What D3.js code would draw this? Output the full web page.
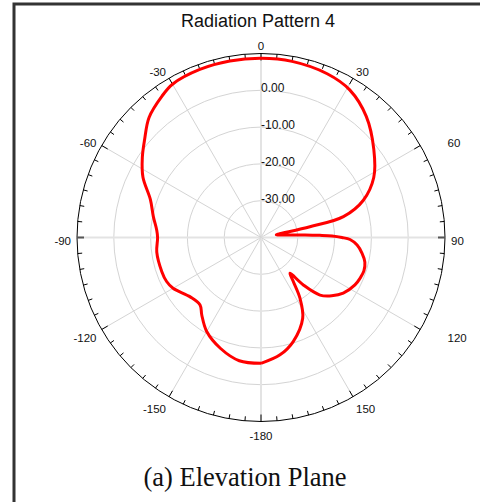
<!DOCTYPE html>
<html><head><meta charset="utf-8">
<script src="https://cdn.jsdelivr.net/npm/d3@7"></script>
<style>body{margin:0;background:#fff}svg{display:block}</style>
</head><body>
<script>
// ---- data ----
const angles = [-180,-170,-160,-150,-142.6,-137.9,-130,-120,-115,-109,-98,-90,-86,-79,-71,-63,-56,-50,-43,-35,-30,-20,-10,0,10,22,31,41,52,62,70,75.8,77.6,79,80,81.6,85.1,86.7,87.9,88.8,90,91.3,94.5,98.9,103.3,108,112.4,116.8,124.1,129.5,134.3,138.3,141,143.8,147.3,152.7,162.8,170.8,180];
const gainDb = [-5.8,-6.0,-7.9,-10.5,-13.5,-15.3,-14.9,-12.4,-11.7,-11.5,-11.4,-11.9,-11.6,-10.2,-8.2,-4.0,-1.1,1.3,4.6,6.9,8.1,8.6,8.7,8.7,8.6,8.0,6.8,3.6,-1.1,-5.3,-10.4,-16.9,-26.4,-35.2,-35.8,-35.3,-32.1,-28.0,-24.0,-20.7,-18.0,-15.8,-13.8,-12.2,-11.0,-10.6,-10.9,-11.4,-13.0,-15.1,-17.6,-22.7,-27.5,-25.1,-20.4,-15.3,-10.4,-7.7,-5.8];
const ringValues = [-30,-20,-10,0];
const ringLabels = ["-30.00","-20.00","-10.00","0.00"];
const angleLabels = [0,30,60,90,120,150,-180,-150,-120,-90,-60,-30];
const title = "Radiation Pattern 4";
const caption = "(a) Elevation Plane";

const W = 480, H = 502;
const cx = 261, cy = 237.5, R = 184;
const svg = d3.select("body").append("svg").attr("width", W).attr("height", H);

svg.append("rect").attr("x",14).attr("y",4).attr("width",W).attr("height",H)
  .attr("fill","none").attr("stroke","#333").attr("stroke-width",3);

const rScale = d3.scaleLinear().domain([-40,10]).range([0,R]);
const toRad = d => d*Math.PI/180;
const g = svg.append("g").attr("transform",`translate(${cx},${cy})`);

// rings
g.selectAll("circle.ring").data(ringValues).enter().append("circle")
  .attr("r", d=>rScale(d)).attr("fill","none").attr("stroke","#d4d4d4").attr("stroke-width",1);
// spokes
const spokes = d3.range(0,360,30);
g.selectAll("line.spoke").data(spokes).enter().append("line")
  .attr("x1",0).attr("y1",0)
  .attr("x2",d=>R*Math.sin(toRad(d))).attr("y2",d=>-R*Math.cos(toRad(d)))
  .attr("stroke", d=> d%90===0 ? "#e3e3e3" : "#d4d4d4")
  .attr("stroke-width", d=> d%90===0 ? 2 : 1);

// outer circle
g.append("circle").attr("r",R).attr("fill","none").attr("stroke","#000").attr("stroke-width",1);
// ticks
const ticks = d3.range(0,360,5);
g.selectAll("line.tick").data(ticks).enter().append("line")
  .attr("x1",d=>R*Math.sin(toRad(d))).attr("y1",d=>-R*Math.cos(toRad(d)))
  .attr("x2",d=>(R-(d%30===0?7:4.5))*Math.sin(toRad(d)))
  .attr("y2",d=>-(R-(d%30===0?7:4.5))*Math.cos(toRad(d)))
  .attr("stroke", d=> d%180===90 ? "#555" : "#000")
  .attr("stroke-width", d=> d%180===90 ? 2 : 1);

// ring labels
g.selectAll("text.rl").data(ringValues).enter().append("text")
  .attr("x",0).attr("y",(d)=>-rScale(d)+2)
  .attr("font-family","Arial, 'Liberation Sans', sans-serif").attr("font-size",12)
  .attr("fill","#111")
  .text((d,i)=>ringLabels[i]);

// angle labels
g.selectAll("text.al").data(angleLabels).enter().append("text")
  .each(function(d){
    const a = toRad(d), s = Math.sin(a), c = Math.cos(a);
    const rr = R + 6;
    let x = rr*s, y = -rr*c;
    const t = d3.select(this);
    t.attr("text-anchor", s>0.2 ? "start" : (s< -0.2 ? "end" : "middle"));
    // right-hand labels at +-60 deg from the horizontal sit further out
    if (s > 0.8 && s < 0.95) x += 22;
    y += -c*5 + 7;
    t.attr("x",x).attr("y",y);
  })
  .attr("font-family","Arial, 'Liberation Sans', sans-serif").attr("font-size",11.5)
  .attr("fill","#111")
  .text(d=>d);

// pattern
const pts = angles.map((a,i)=>[toRad(a), rScale(gainDb[i])]);
const line = d3.lineRadial().angle(d=>d[0]).radius(d=>d[1]).curve(d3.curveCatmullRom.alpha(0.5));
g.append("path").attr("d", line(pts)).attr("fill","none")
  .attr("stroke","#ff0000").attr("stroke-width",3).attr("stroke-linejoin","round");

svg.append("text").attr("x",258).attr("y",27).attr("text-anchor","middle")
  .attr("font-family","Arial, 'Liberation Sans', sans-serif").attr("font-size",18).attr("fill","#111")
  .text(title);
svg.append("text").attr("x",245).attr("y",486).attr("text-anchor","middle")
  .attr("font-family","'Times New Roman', 'Liberation Serif', serif").attr("font-size",26.5).attr("fill","#111")
  .text(caption);
</script>
</body></html>
